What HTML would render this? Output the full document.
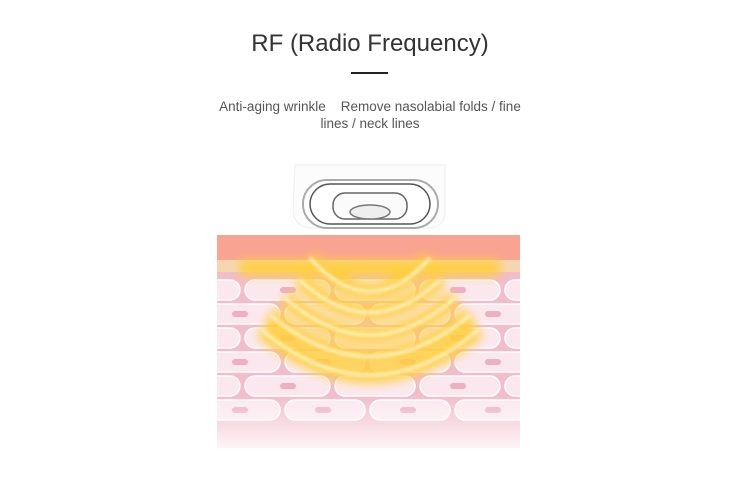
<!DOCTYPE html>
<html><head><style>
body{margin:0;width:750px;height:497px;background:#fff;font-family:"Liberation Sans",sans-serif;position:relative;overflow:hidden}
h1{position:absolute;top:30px;left:0;width:740px;text-align:center;margin:0;font-weight:normal;font-size:24px;color:#333}
.bar{position:absolute;left:351px;top:72px;width:37px;height:2px;background:#222}
.sub{position:absolute;top:98px;left:205px;width:330px;text-align:center;font-size:13.5px;color:#555;line-height:17px}
svg{position:absolute;left:0;top:0}
</style></head><body>
<h1>RF (Radio Frequency)</h1>
<div class="bar"></div>
<div class="sub">Anti-aging wrinkle&nbsp;&nbsp;&nbsp; Remove nasolabial folds / fine lines / neck lines</div>
<svg width="750" height="497">
<defs>
<filter id="b" x="-30%" y="-60%" width="160%" height="220%"><feGaussianBlur stdDeviation="5"/></filter>
<filter id="b2"><feGaussianBlur stdDeviation="1.5"/></filter>
<linearGradient id="fade" x1="0" y1="0" x2="0" y2="1"><stop offset="0" stop-color="#fff" stop-opacity="0"/><stop offset="1" stop-color="#fff" stop-opacity="0.85"/></linearGradient>
<clipPath id="c"><rect x="217" y="235" width="303" height="213"/></clipPath>
</defs>
<g clip-path="url(#c)">
<rect x="217" y="235" width="303" height="213" fill="#f2bccb"/>
<rect x="217" y="235" width="303" height="25" fill="#f9a393"/>
<rect x="217" y="260" width="303" height="12" fill="#f6d6b0"/>
<g fill="#fbe8ee" stroke="#fff" stroke-width="1.5">
<rect x="190" y="280" width="50" height="20" rx="10"/><rect x="245" y="280" width="85" height="20" rx="10"/><rect x="335" y="280" width="80" height="20" rx="10"/><rect x="420" y="280" width="80" height="20" rx="10"/><rect x="505" y="280" width="40" height="20" rx="10"/>
<rect x="205" y="304" width="75" height="20" rx="10"/><rect x="285" y="304" width="80" height="20" rx="10"/><rect x="370" y="304" width="80" height="20" rx="10"/><rect x="455" y="304" width="80" height="20" rx="10"/>
<rect x="190" y="328" width="50" height="20" rx="10"/><rect x="245" y="328" width="85" height="20" rx="10"/><rect x="335" y="328" width="80" height="20" rx="10"/><rect x="420" y="328" width="80" height="20" rx="10"/><rect x="505" y="328" width="40" height="20" rx="10"/>
<rect x="205" y="352" width="75" height="20" rx="10"/><rect x="285" y="352" width="80" height="20" rx="10"/><rect x="370" y="352" width="80" height="20" rx="10"/><rect x="455" y="352" width="80" height="20" rx="10"/>
<rect x="190" y="376" width="50" height="20" rx="10"/><rect x="245" y="376" width="85" height="20" rx="10"/><rect x="335" y="376" width="80" height="20" rx="10"/><rect x="420" y="376" width="80" height="20" rx="10"/><rect x="505" y="376" width="40" height="20" rx="10"/>
<rect x="205" y="400" width="75" height="20" rx="10"/><rect x="285" y="400" width="80" height="20" rx="10"/><rect x="370" y="400" width="80" height="20" rx="10"/><rect x="455" y="400" width="80" height="20" rx="10"/>
</g>
<g fill="#efafc3">
<rect x="280" y="287" width="16" height="6" rx="3"/><rect x="450" y="287" width="16" height="6" rx="3"/>
<rect x="232" y="311" width="16" height="6" rx="3"/><rect x="485" y="311" width="16" height="6" rx="3"/>
<rect x="280" y="335" width="16" height="6" rx="3"/><rect x="450" y="335" width="16" height="6" rx="3"/>
<rect x="232" y="359" width="16" height="6" rx="3"/><rect x="315" y="359" width="16" height="6" rx="3"/><rect x="400" y="359" width="16" height="6" rx="3"/><rect x="485" y="359" width="16" height="6" rx="3"/>
<rect x="280" y="383" width="16" height="6" rx="3"/><rect x="450" y="383" width="16" height="6" rx="3"/>
<rect x="232" y="407" width="16" height="6" rx="3"/><rect x="315" y="407" width="16" height="6" rx="3"/><rect x="400" y="407" width="16" height="6" rx="3"/><rect x="485" y="407" width="16" height="6" rx="3"/>
</g>
<rect x="217" y="395" width="303" height="53" fill="url(#fade)"/>
<g fill="none" stroke="#ffcf3a" stroke-width="16" filter="url(#b)" opacity="0.95">
<path d="M240 268 L500 268"/>
<path d="M310 258 Q370 325 430 258"/>
<path d="M300 280 Q370 345 440 280"/>
<path d="M285 298 Q370 372 455 298"/>
<path d="M270 315 Q370 398 470 315"/>
<path d="M262 330 Q370 420 478 330"/>
</g>
<g fill="none" stroke="#fff6d0" stroke-width="3" filter="url(#b2)">
<path d="M310 258 Q370 325 430 258"/>
<path d="M300 280 Q370 345 440 280"/>
<path d="M285 298 Q370 372 455 298"/>
<path d="M270 315 Q370 398 470 315"/>
<path d="M262 330 Q370 420 478 330"/>
</g>
</g>
<path d="M295 165 L445 165 L445 212 Q445 226 430 228 L310 228 Q295 226 293 212 Z" fill="#fcfcfc" stroke="#eee"/>
<rect x="303" y="180" width="135" height="48" rx="24" fill="#fff" stroke="#aaa" stroke-width="2"/>
<rect x="310" y="184" width="120" height="40" rx="20" fill="none" stroke="#555" stroke-width="1.5"/>
<rect x="333" y="193" width="74" height="26" rx="12" fill="#fbfbfb" stroke="#666" stroke-width="1.5"/>
<ellipse cx="370" cy="212" rx="20" ry="7" fill="#eee" stroke="#777" stroke-width="1.5"/>
</svg>
</body></html>
